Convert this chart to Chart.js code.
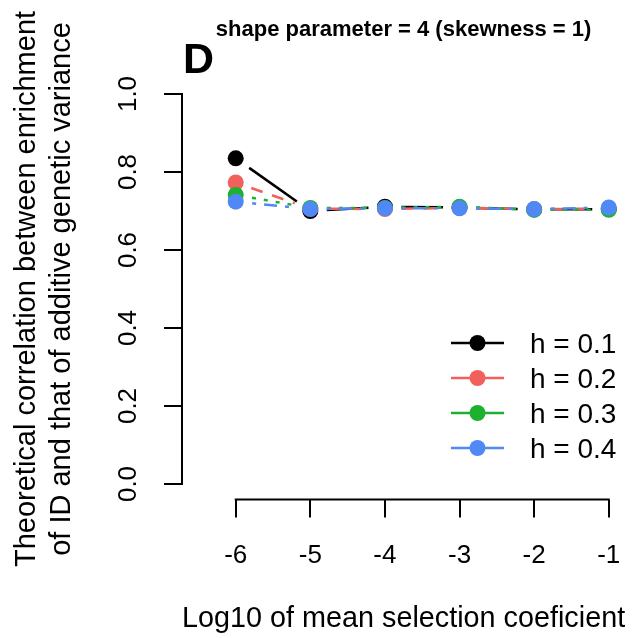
<!DOCTYPE html>
<html><head><meta charset="utf-8">
<script src="https://cdn.jsdelivr.net/npm/chart.js@4"></script>
<style>html,body{margin:0;padding:0;background:#fff}</style>
</head><body>
<canvas id="c" width="644" height="638"></canvas>
<script>
// ---- data ----
const xValues = [-6, -5, -4, -3, -2, -1];
const h01 = [0.835, 0.700, 0.711, 0.709, 0.704, 0.705];
const h02 = [0.773, 0.706, 0.705, 0.708, 0.705, 0.706];
const h03 = [0.741, 0.708, 0.708, 0.711, 0.703, 0.703];
const h04 = [0.724, 0.705, 0.707, 0.707, 0.705, 0.709];
const seriesLabels = ['h = 0.1', 'h = 0.2', 'h = 0.3', 'h = 0.4'];
const xTicks = [-6, -5, -4, -3, -2, -1];
const xTickLabels = ['-6', '-5', '-4', '-3', '-2', '-1'];
const yTicks = [0, 0.2, 0.4, 0.6, 0.8, 1.0];
const yTickLabels = ['0.0', '0.2', '0.4', '0.6', '0.8', '1.0'];
const titleText = 'shape parameter = 4 (skewness = 1)';
const panelLetter = 'D';
const xTitle = 'Log10 of mean selection coeficient';
const yTitle = ['Theoretical correlation between enrichment', 'of ID and that of additive genetic variance'];

// ---- styles ----
const colors = ['#000000', '#F2605B', '#1DB12F', '#5089F6'];
const dashes = [[], [12, 10], [4, 8], [4, 8, 13, 8]];
const FONT = "'Liberation Sans', Arial, Helvetica, sans-serif";
Chart.defaults.font.family = FONT;
Chart.defaults.color = '#000';

const allSeries = [h01, h02, h03, h04];
const datasets = allSeries.map((vals, i) => ({
  label: seriesLabels[i],
  data: xValues.map((x, k) => ({ x: x, y: vals[k] })),
  showLine: false,
  pointRadius: 8,
  pointHoverRadius: 8,
  pointBackgroundColor: colors[i],
  pointBorderColor: colors[i],
  pointBorderWidth: 0,
  borderColor: colors[i],
  order: allSeries.length - 1 - i
}));

const GAP = 16.5;
const gapLines = {
  id: 'gapLines',
  beforeDatasetsDraw(chart) {
    const ctx = chart.ctx;
    chart.data.datasets.forEach((ds, i) => {
      const meta = chart.getDatasetMeta(i);
      ctx.save();
      ctx.strokeStyle = colors[i];
      ctx.lineWidth = 2.5;
      ctx.setLineDash(dashes[i]);
      for (let k = 0; k < meta.data.length - 1; k++) {
        const a = meta.data[k], b = meta.data[k + 1];
        const dx = b.x - a.x, dy = b.y - a.y, d = Math.hypot(dx, dy);
        if (d <= 2 * GAP) continue;
        const ux = dx / d, uy = dy / d;
        ctx.beginPath();
        ctx.moveTo(a.x + ux * GAP, a.y + uy * GAP);
        ctx.lineTo(b.x - ux * GAP, b.y - uy * GAP);
        ctx.stroke();
      }
      ctx.restore();
    });
  }
};

const axisLines = {
  id: 'axisLines',
  afterDraw(chart) {
    const ctx = chart.ctx;
    const xs = chart.scales.x, ys = chart.scales.y;
    const ca = chart.chartArea;
    ctx.save();
    ctx.strokeStyle = '#000';
    ctx.lineWidth = 2;
    ctx.lineCap = 'square';
    ctx.beginPath();
    ctx.moveTo(xs.getPixelForValue(xTicks[0]), ca.bottom);
    ctx.lineTo(xs.getPixelForValue(xTicks[xTicks.length - 1]), ca.bottom);
    ctx.moveTo(ca.left, ys.getPixelForValue(yTicks[0]));
    ctx.lineTo(ca.left, ys.getPixelForValue(yTicks[yTicks.length - 1]));
    ctx.stroke();
    ctx.restore();
  }
};

const extras = {
  id: 'extras',
  afterDraw(chart) {
    const ctx = chart.ctx;
    ctx.save();
    // panel letter
    ctx.fillStyle = '#000';
    ctx.font = 'bold 43px ' + FONT;
    ctx.textBaseline = 'alphabetic';
    ctx.textAlign = 'left';
    ctx.fillText(panelLetter, 183, 73);
    // legend
    const rowY = [343, 378, 413, 448];
    const lx0 = 451, lx1 = 504, px = 477.5, tx = 530;
    ctx.font = '28px ' + FONT;
    seriesLabels.forEach((lab, i) => {
      const y = rowY[i];
      ctx.strokeStyle = colors[i];
      ctx.lineWidth = 2.5;
      ctx.beginPath();
      ctx.moveTo(lx0, y); ctx.lineTo(lx1, y);
      ctx.stroke();
      ctx.fillStyle = colors[i];
      ctx.beginPath();
      ctx.arc(px, y, 8, 0, Math.PI * 2);
      ctx.fill();
      ctx.fillStyle = '#000';
      ctx.fillText(lab, tx, y + 10);
    });
    ctx.restore();
  }
};

new Chart(document.getElementById('c'), {
  type: 'scatter',
  data: { datasets: datasets },
  options: {
    responsive: false,
    animation: false,
    events: [],
    layout: { padding: { left: 0, right: 8, top: 0, bottom: 0 } },
    plugins: {
      legend: { display: false },
      tooltip: { enabled: false },
      title: {
        display: true,
        text: titleText,
        fullSize: false,
        color: '#000',
        font: { size: 22, weight: 'bold', family: FONT },
        padding: { top: 16.8, bottom: 35.2 }
      }
    },
    scales: {
      x: {
        type: 'linear',
        min: -6.72, max: -0.78,
        afterBuildTicks: s => { s.ticks = xTicks.map(v => ({ value: v })); },
        afterFit: s => { s.height = 138.4; },
        ticks: {
          autoSkip: false,
          maxRotation: 0, minRotation: 0,
          padding: 23,
          color: '#000',
          font: { size: 26, family: FONT },
          callback: (v) => xTickLabels[xTicks.indexOf(v)]
        },
        grid: { drawOnChartArea: false, drawTicks: true, tickLength: 18, color: '#000', lineWidth: 2 },
        border: { display: false },
        title: { display: true, text: xTitle, color: '#000', font: { size: 29, family: FONT }, padding: { top: 0, bottom: 2 } }
      },
      y: {
        type: 'linear',
        min: -0.04, max: 1.04,
        afterBuildTicks: s => { s.ticks = yTicks.map(v => ({ value: v })); },
        afterCalculateLabelRotation: s => { s.labelRotation = 90; },
        afterFit: s => { s.width = 182; },
        ticks: {
          autoSkip: false,
          crossAlign: 'center',
          padding: 17,
          color: '#000',
          font: { size: 26, family: FONT },
          callback: (v) => yTickLabels[yTicks.indexOf(v)]
        },
        grid: { drawOnChartArea: false, drawTicks: true, tickLength: 18, color: '#000', lineWidth: 2 },
        border: { display: false },
        title: { display: true, text: yTitle, color: '#000', font: { size: 29, family: FONT }, padding: { top: 10, bottom: 0 } }
      }
    }
  },
  plugins: [gapLines, axisLines, extras]
});
</script>
</body></html>
